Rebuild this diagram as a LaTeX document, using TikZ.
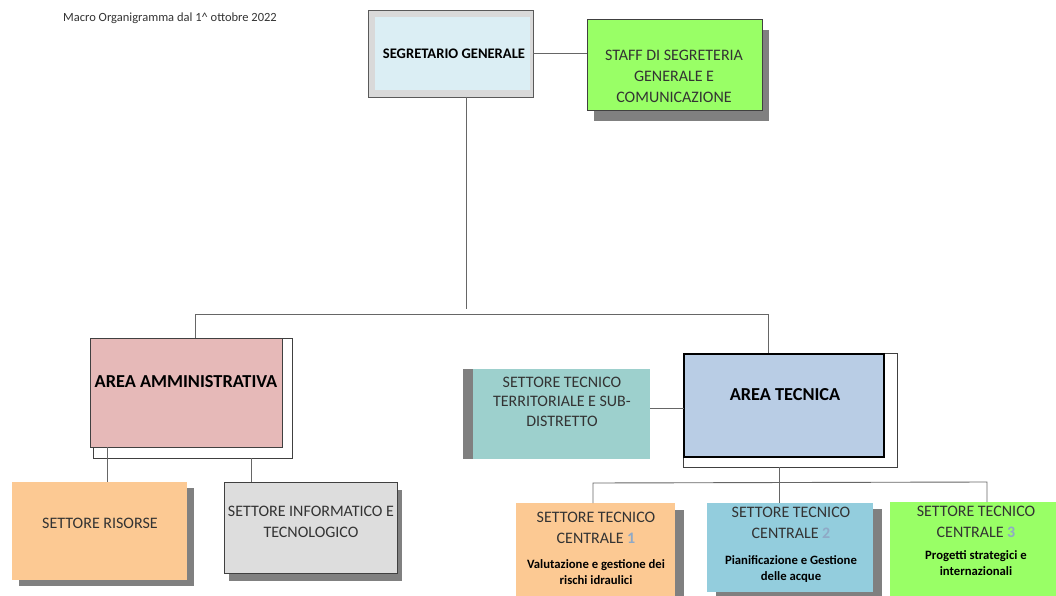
\documentclass[tikz,border=0pt]{standalone}
\usepackage{fontspec}
\setmainfont{Carlito}
\usetikzlibrary{shadows}
\definecolor{txt}{HTML}{333333}
\definecolor{segout}{HTML}{D9D9D9}
\definecolor{segin}{HTML}{DBEEF4}
\definecolor{lgreen}{HTML}{99FF66}
\definecolor{shad}{HTML}{808080}
\definecolor{pinkf}{HTML}{E6B9B8}
\definecolor{orangef}{HTML}{FCC993}
\definecolor{greyf}{HTML}{DDDDDD}
\definecolor{tealf}{HTML}{9DD0CD}
\definecolor{bluef}{HTML}{B9CDE5}
\definecolor{blue2}{HTML}{93CDDD}
\definecolor{conn}{HTML}{666666}
\definecolor{digit}{HTML}{8FA9C6}
\newcommand\odig[1]{\textcolor{digit}{\bfseries #1}}
\begin{document}
\begin{tikzpicture}[x=1pt,y=-1pt,
  box/.style={inner sep=0pt,outer sep=0pt,rectangle},
  reg/.style={text=txt,align=center,inner sep=0pt,font=\fontsize{16}{21}\selectfont},
  boldt/.style={text=black,align=center,inner sep=0pt,font=\bfseries\fontsize{12.7}{16}\selectfont},
  head/.style={text=black,align=center,inner sep=0pt,font=\bfseries\fontsize{18.3}{20}\selectfont},
  conn/.style={draw=conn,line width=0.9pt}]
\useasboundingbox (0,0) rectangle (1056,596);

\node[anchor=west,text=txt,inner sep=0pt,font=\fontsize{12.5}{14}\selectfont] (title) at (63,18) {Macro Organigramma dal 1\^{} ottobre 2022};

% Segretario generale
\node[box,fill=segout,draw=black!65,line width=0.8pt,minimum width=165pt,minimum height=87pt] (seg) at (450.5,53.5) {};
\node[box,fill=segin,minimum width=155pt,minimum height=73pt] (segin) at (452.5,53.5) {};
\node[text=black,inner sep=0pt,font=\bfseries\fontsize{14.6}{16}\selectfont] (seglab) at (454,54) {SEGRETARIO GENERALE};

% Staff
\node[box,fill=lgreen,draw=black!75,line width=0.6pt,minimum width=175pt,minimum height=91pt,
  drop shadow={shadow xshift=7pt,shadow yshift=-11pt,fill=shad,opacity=1}] (staff) at (674.5,64.5) {};
\node[reg] (stafflab) at (674,76) {STAFF DI SEGRETERIA\\GENERALE E\\COMUNICAZIONE};

% Area amministrativa
\node[box,draw=black!75,line width=0.6pt,minimum width=199pt,minimum height=120pt] (pinkframe) at (192.5,398) {};
\node[box,fill=pinkf,draw=black!75,line width=0.6pt,minimum width=192pt,minimum height=109pt] (pink) at (186,392.5) {};
\node[head] (pinklab) at (186,382) {AREA AMMINISTRATIVA};

% Settore risorse
\node[box,fill=orangef,minimum width=175pt,minimum height=98pt,
  drop shadow={shadow xshift=7pt,shadow yshift=-6pt,fill=shad,opacity=1}] (ris) at (99.5,531) {};
\node[reg] (rislab) at (100,523) {SETTORE RISORSE};

% Settore informatico
\node[box,fill=greyf,draw=black!75,line width=0.6pt,minimum width=173pt,minimum height=91pt,
  drop shadow={shadow xshift=5pt,shadow yshift=-8pt,fill=shad,opacity=1}] (info) at (310.5,527.5) {};
\node[reg] (infolab) at (311,522) {SETTORE INFORMATICO E\\TECNOLOGICO};

% Settore tecnico territoriale
\node[box,fill=tealf,minimum width=187pt,minimum height=90pt] (teal) at (556.5,414) {};
\node[box,fill=shad,minimum width=10pt,minimum height=90pt] (tealstrip) at (468,414) {};
\node[reg,font=\fontsize{16}{19.5}\selectfont] (teallab) at (562,401.5) {SETTORE TECNICO\\TERRITORIALE E SUB-\\DISTRETTO};

% Area tecnica
\node[box,draw=black!75,line width=0.6pt,minimum width=214pt,minimum height=114pt] (tecframe) at (790,410) {};
\node[box,fill=bluef,draw=black,line width=2pt,minimum width=200pt,minimum height=103pt] (tec) at (784,405.5) {};
\node[head] (teclab) at (785,395) {AREA TECNICA};

% Settori tecnici centrali
\node[box,fill=orangef,minimum width=159pt,minimum height=97pt,
  drop shadow={shadow xshift=9pt,shadow yshift=-7pt,fill=shad,opacity=1}] (stc1) at (595.5,551.5) {};
\node[reg] (stc1a) at (596,527.5) {SETTORE TECNICO\\CENTRALE \odig{1}};
\node[boldt] (stc1b) at (596,572) {Valutazione e gestione dei\\rischi idraulici};

\node[box,fill=blue2,minimum width=166pt,minimum height=89pt,
  drop shadow={shadow xshift=9pt,shadow yshift=-6pt,fill=shad,opacity=1}] (stc2) at (790,547.5) {};
\node[reg] (stc2a) at (791,522.5) {SETTORE TECNICO\\CENTRALE \odig{2}};
\node[boldt] (stc2b) at (791,569) {Pianificazione e Gestione\\delle acque};

\node[box,fill=lgreen,minimum width=170pt,minimum height=98pt] (stc3) at (975,551) {};
\node[reg] (stc3a) at (976,522) {SETTORE TECNICO\\CENTRALE \odig{3}};
\node[boldt] (stc3b) at (976,563.5) {Progetti strategici e\\internazionali};

% connectors
\coordinate (segdrop) at (466,309);
\coordinate (busL) at (195,314);
\coordinate (busR) at (768,314);
\coordinate (risx) at (107,0);
\coordinate (infox) at (251,0);
\coordinate (tty) at (0,408);
\coordinate (bus2L) at (593,483);
\coordinate (bus2M) at (779,483);
\coordinate (bus2R) at (987,482);

\draw[conn] (seg.east |- 0,53) -- (staff.west |- 0,53);
\draw[conn] (seg.south -| segdrop) -- (segdrop);
\draw[conn] (pinkframe.north -| busL) -- (busL) -- (busR) -- (tecframe.north -| busR);
\draw[conn] (pink.south -| risx) -- (ris.north -| risx);
\draw[conn] (pinkframe.south -| infox) -- (info.north -| infox);
\draw[conn] (teal.east |- tty) -- (tec.west |- tty);
\draw[conn] (tecframe.south -| bus2M) -- (bus2M);
\draw[conn] (stc1.north -| bus2L) -- (bus2L) -- (bus2R) -- (stc3.north -| bus2R);
\draw[conn] (bus2M) -- (stc2.north -| bus2M);
\end{tikzpicture}
\end{document}
